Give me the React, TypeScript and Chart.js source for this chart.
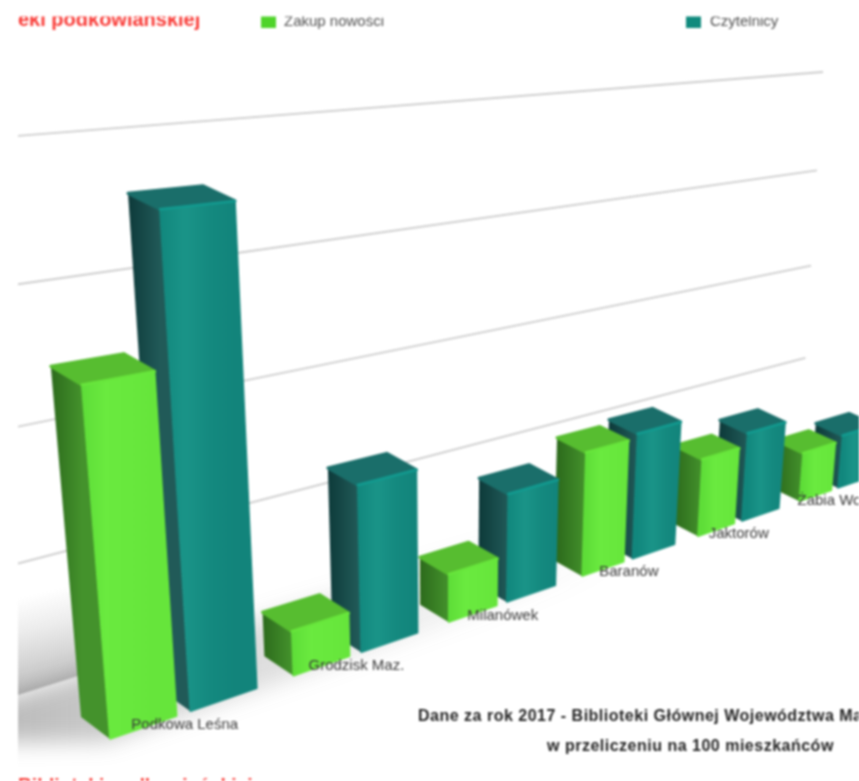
import React, { useEffect, useRef } from "react";
import { Chart, registerables } from "chart.js";

Chart.register(...registerables);

const categories = ["Podkowa Leśna", "Grodzisk Maz.", "Milanówek", "Baranów", "Jaktorów", "Żabia Wola"];
const zakupNowosci = [18.0, 2.6, 3.0, 8.1, 5.4, 3.6];
const czytelnicy = [25.5, 9.8, 6.85, 8.4, 6.3, 4.0];
const valueTicks = [10, 20, 30, 40];
const seriesNames = ["Zakup nowości", "Czytelnicy"];
const titleFragment = "eki podkowiańskiej";
const titleBottom = "Biblioteki podkowiańskiej";
const noteLine1 = "Dane za rok 2017 - Biblioteki Głównej Województwa Mazowieckiego";
const noteLine2 = "w przeliczeniu na 100 mieszkańców";

type Pt = [number, number];

// projective camera: chart plane -> picture
const VP: Pt = [450, 5000];
const G = 0.00427;
const AXIS_MAX = 40;
const WALL: Pt[] = [[-60, 142], [823, 72], [800, 447], [-10, 704]]; // TL TR BR BL

function quadMap(q: Pt[]) {
  const [p0, p1, p2, p3] = q;
  const dx1 = p1[0] - p2[0], dx2 = p3[0] - p2[0], sx = p0[0] - p1[0] + p2[0] - p3[0];
  const dy1 = p1[1] - p2[1], dy2 = p3[1] - p2[1], sy = p0[1] - p1[1] + p2[1] - p3[1];
  const det = dx1 * dy2 - dx2 * dy1;
  const g = (sx * dy2 - dx2 * sy) / det;
  const h = (dx1 * sy - sx * dy1) / det;
  const a = p1[0] - p0[0] + g * p1[0], b = p3[0] - p0[0] + h * p3[0], c = p0[0];
  const d = p1[1] - p0[1] + g * p1[1], e = p3[1] - p0[1] + h * p3[1], f = p0[1];
  return (u: number, v: number): Pt => {
    const w = g * u + h * v + 1;
    return [(a * u + b * v + c) / w, (d * u + e * v + f) / w];
  };
}
const wallMap = quadMap(WALL);

const GREEN = {
  front: ["#5edd38", "#6aea3f", "#68e83d", "#66e53b"],
  side: ["#2c6a1c", "#44922c"],
  top: "#57bd30",
  edge: "#68e63c",
};
const TEAL = {
  front: ["#11877d", "#1a9488", "#14897f", "#12847b"],
  side: ["#0d3a3a", "#215a58"],
  top: "#1a6e6a",
  edge: "#129b90",
};

const scenePlugin = {
  id: "scene",
  beforeDatasetsDraw() {
    return false;
  },
  afterDraw(chart: any) {
    const ctx: any = chart.ctx;
    const xs = chart.scales.x;
    const ys = chart.scales.y;
    const area = chart.chartArea;
    const toU = (px: number) => ((px - area.left) / (area.right - area.left)) * categories.length - 0.098;
    const toV = (py: number) => ys.getValueForPixel(py);

    const project = (px: number, py: number, z: number): Pt => {
      const u = toU(px);
      const gv = G * toV(py);
      const hx = 107 + 210 * u - gv * VP[0] - 27.9 * z;
      const hy = 740 - 2.5 * u - gv * VP[1] - 12 * z;
      const w = 1 + 0.09 * u - gv + 0.014 * z;
      return [hx / w, hy / w];
    };
    const wall = (px: number, py: number): Pt =>
      wallMap((px - area.left) / (area.right - area.left), 1 - toV(py) / AXIS_MAX);

    const poly = (pts: Pt[]) => {
      ctx.beginPath();
      pts.forEach((p, i) => (i ? ctx.lineTo(p[0], p[1]) : ctx.moveTo(p[0], p[1])));
      ctx.closePath();
    };

    ctx.save();
    ctx.beginPath();
    ctx.rect(18, 16.5, 841, 751.5);
    ctx.clip();

    const y0 = ys.getPixelForValue(0);

    // shadow on the wall, left of the first bar
    const wA = wall(area.left, y0);
    const wC = wall(area.left + (area.right - area.left) * 0.2, y0);
    const up = wall(area.left, ys.getPixelForValue(9));
    const upR = wall(area.left + (area.right - area.left) * 0.2, ys.getPixelForValue(9));
    const grad = ctx.createLinearGradient(18, 598, 40, 692);
    grad.addColorStop(0, "rgba(160,160,160,0)");
    grad.addColorStop(0.35, "rgba(160,160,160,0.2)");
    grad.addColorStop(1, "rgba(160,160,160,0.7)");
    ctx.fillStyle = grad;
    poly([up, upR, wC, wA]);
    ctx.fill();

    // soft shadow on the floor, under the bars
    const floor: Pt[] = [];
    const n = categories.length;
    for (let i = 0; i <= n; i++) floor.push(project(area.left + ((area.right - area.left) * (i + 0.1)) / n, y0, 0));
    const floorGrad = ctx.createLinearGradient(18, 0, 620, 0);
    floorGrad.addColorStop(0, "rgba(70,70,70,0.36)");
    floorGrad.addColorStop(0.3, "rgba(70,70,70,0.22)");
    floorGrad.addColorStop(0.7, "rgba(70,70,70,0.08)");
    floorGrad.addColorStop(1, "rgba(70,70,70,0)");
    ctx.save();
    ctx.filter = "blur(11px)";
    ctx.fillStyle = floorGrad;
    const back = [wall(area.left, y0), wall(area.right, y0)];
    poly([back[0], back[1], ...floor.slice().reverse().map((p) => [p[0], p[1] + 2] as Pt), [-40, 742]]);
    ctx.fill();
    ctx.restore();

    // gridlines on the back wall
    ctx.strokeStyle = "#cdcdcd";
    ctx.lineWidth = 1.8;
    ys.ticks
      .filter((t: any) => valueTicks.includes(t.value))
      .forEach((t: any) => {
        const py = ys.getPixelForValue(t.value);
        const a = wall(area.left, py);
        const b = wall(area.right, py);
        ctx.beginPath();
        ctx.moveTo(a[0], a[1]);
        ctx.lineTo(b[0], b[1]);
        ctx.stroke();
      });

    // bars, painted far to near
    const metas = [chart.getDatasetMeta(0), chart.getDatasetMeta(1)];
    const styles = [GREEN, TEAL];
    for (let i = n - 1; i >= 0; i--) {
      for (let s = 1; s >= 0; s--) {
        const el = metas[s].data[i];
        const c = styles[s];
        const L = el.x - el.width / 2;
        const R = el.x + el.width / 2;
        const T = el.y;
        const B = el.base;
        const fLT = project(L, T, 0), fRT = project(R, T, 0), fRB = project(R, B, 0), fLB = project(L, B, 0);
        const bLT = project(L, T, 1), bRT = project(R, T, 1), bLB = project(L, B, 1);

        ctx.lineJoin = "round";

        const sideG = ctx.createLinearGradient(bLT[0], 0, fLT[0], 0);
        sideG.addColorStop(0, c.side[0]);
        sideG.addColorStop(1, c.side[1]);
        ctx.fillStyle = sideG;
        poly([bLT, fLT, fLB, bLB]);
        ctx.fill();

        ctx.fillStyle = c.top;
        ctx.strokeStyle = c.top;
        ctx.lineWidth = 3;
        poly([bLT, bRT, fRT, fLT]);
        ctx.fill();
        ctx.stroke();

        const frontG = ctx.createLinearGradient(fLT[0], 0, fRT[0], 0);
        c.front.forEach((col, k) => frontG.addColorStop(k / (c.front.length - 1), col));
        ctx.fillStyle = frontG;
        ctx.strokeStyle = frontG;
        poly([fLT, fRT, fRB, fLB]);
        ctx.fill();
        ctx.lineWidth = 1.5;
        ctx.stroke();

        ctx.strokeStyle = c.edge;
        ctx.lineWidth = 2.5;
        ctx.lineCap = "round";
        ctx.beginPath();
        ctx.moveTo(fLT[0], fLT[1]);
        ctx.lineTo(fRT[0], fRT[1]);
        ctx.stroke();
      }
    }

    // category labels on the floor
    ctx.fillStyle = "#3a3a3a";
    ctx.font = '15px "Liberation Sans"';
    ctx.textAlign = "center";
    ctx.textBaseline = "middle";
    categories.forEach((label, i) => {
      const p = project(xs.getPixelForValue(i), y0, 0);
      ctx.fillText(label, p[0], p[1] + 12);
    });

    // note
    ctx.fillStyle = "#222222";
    ctx.textAlign = "left";
    ctx.textBaseline = "alphabetic";
    ctx.font = 'bold 16px "Liberation Sans"';
    ctx.letterSpacing = "0.5px";
    ctx.fillText(noteLine1, 418, 721);
    ctx.fillText(noteLine2, 547, 751);
    ctx.letterSpacing = "0px";

    // title fragment and legend, cut by the top of the crop
    ctx.fillStyle = "#f93a36";
    ctx.font = 'bold 20px "Liberation Sans"';
    ctx.fillText(titleFragment, 18, 26);

    ctx.fillStyle = "#4fd42a";
    ctx.fillRect(261, 16, 15, 12);
    ctx.fillStyle = "#0f8a7d";
    ctx.fillRect(686, 16, 15, 12);
    ctx.fillStyle = "#505050";
    ctx.font = '15px "Liberation Sans"';
    ctx.fillText(seriesNames[0], 284, 25.5);
    ctx.fillText(seriesNames[1], 710, 25.5);
    ctx.restore();

    ctx.fillStyle = "#f93a36";
    ctx.font = 'bold 19.2px "Liberation Sans"';
    ctx.textAlign = "left";
    ctx.textBaseline = "alphabetic";
    ctx.fillText(titleBottom, 18, 791);
  },
};

export default function App() {
  const ref = useRef<HTMLCanvasElement>(null);
  useEffect(() => {
    const chart = new Chart(ref.current as HTMLCanvasElement, {
      type: "bar",
      data: {
        labels: categories,
        datasets: [
          { label: seriesNames[0], data: zakupNowosci, backgroundColor: "#66e83c", categoryPercentage: 0.86, barPercentage: 0.8 },
          { label: seriesNames[1], data: czytelnicy, backgroundColor: "#14897f", categoryPercentage: 0.86, barPercentage: 0.86 },
        ],
      },
      options: {
        responsive: false,
        animation: false,
        layout: { padding: 0 },
        plugins: { legend: { display: false }, title: { display: false }, tooltip: { enabled: false } },
        scales: {
          x: { display: false },
          y: { display: false, min: 0, max: AXIS_MAX, ticks: { stepSize: 10 } },
        },
      },
      plugins: [scenePlugin],
    } as any);
    return () => chart.destroy();
  }, []);
  return (
    <div style={{ position: "absolute", left: 0, top: 0, width: 859, height: 781, overflow: "hidden", background: "#fff" }}>
      <canvas ref={ref} width={859} height={781} style={{ display: "block", filter: "blur(1.1px)" }} />
    </div>
  );
}
